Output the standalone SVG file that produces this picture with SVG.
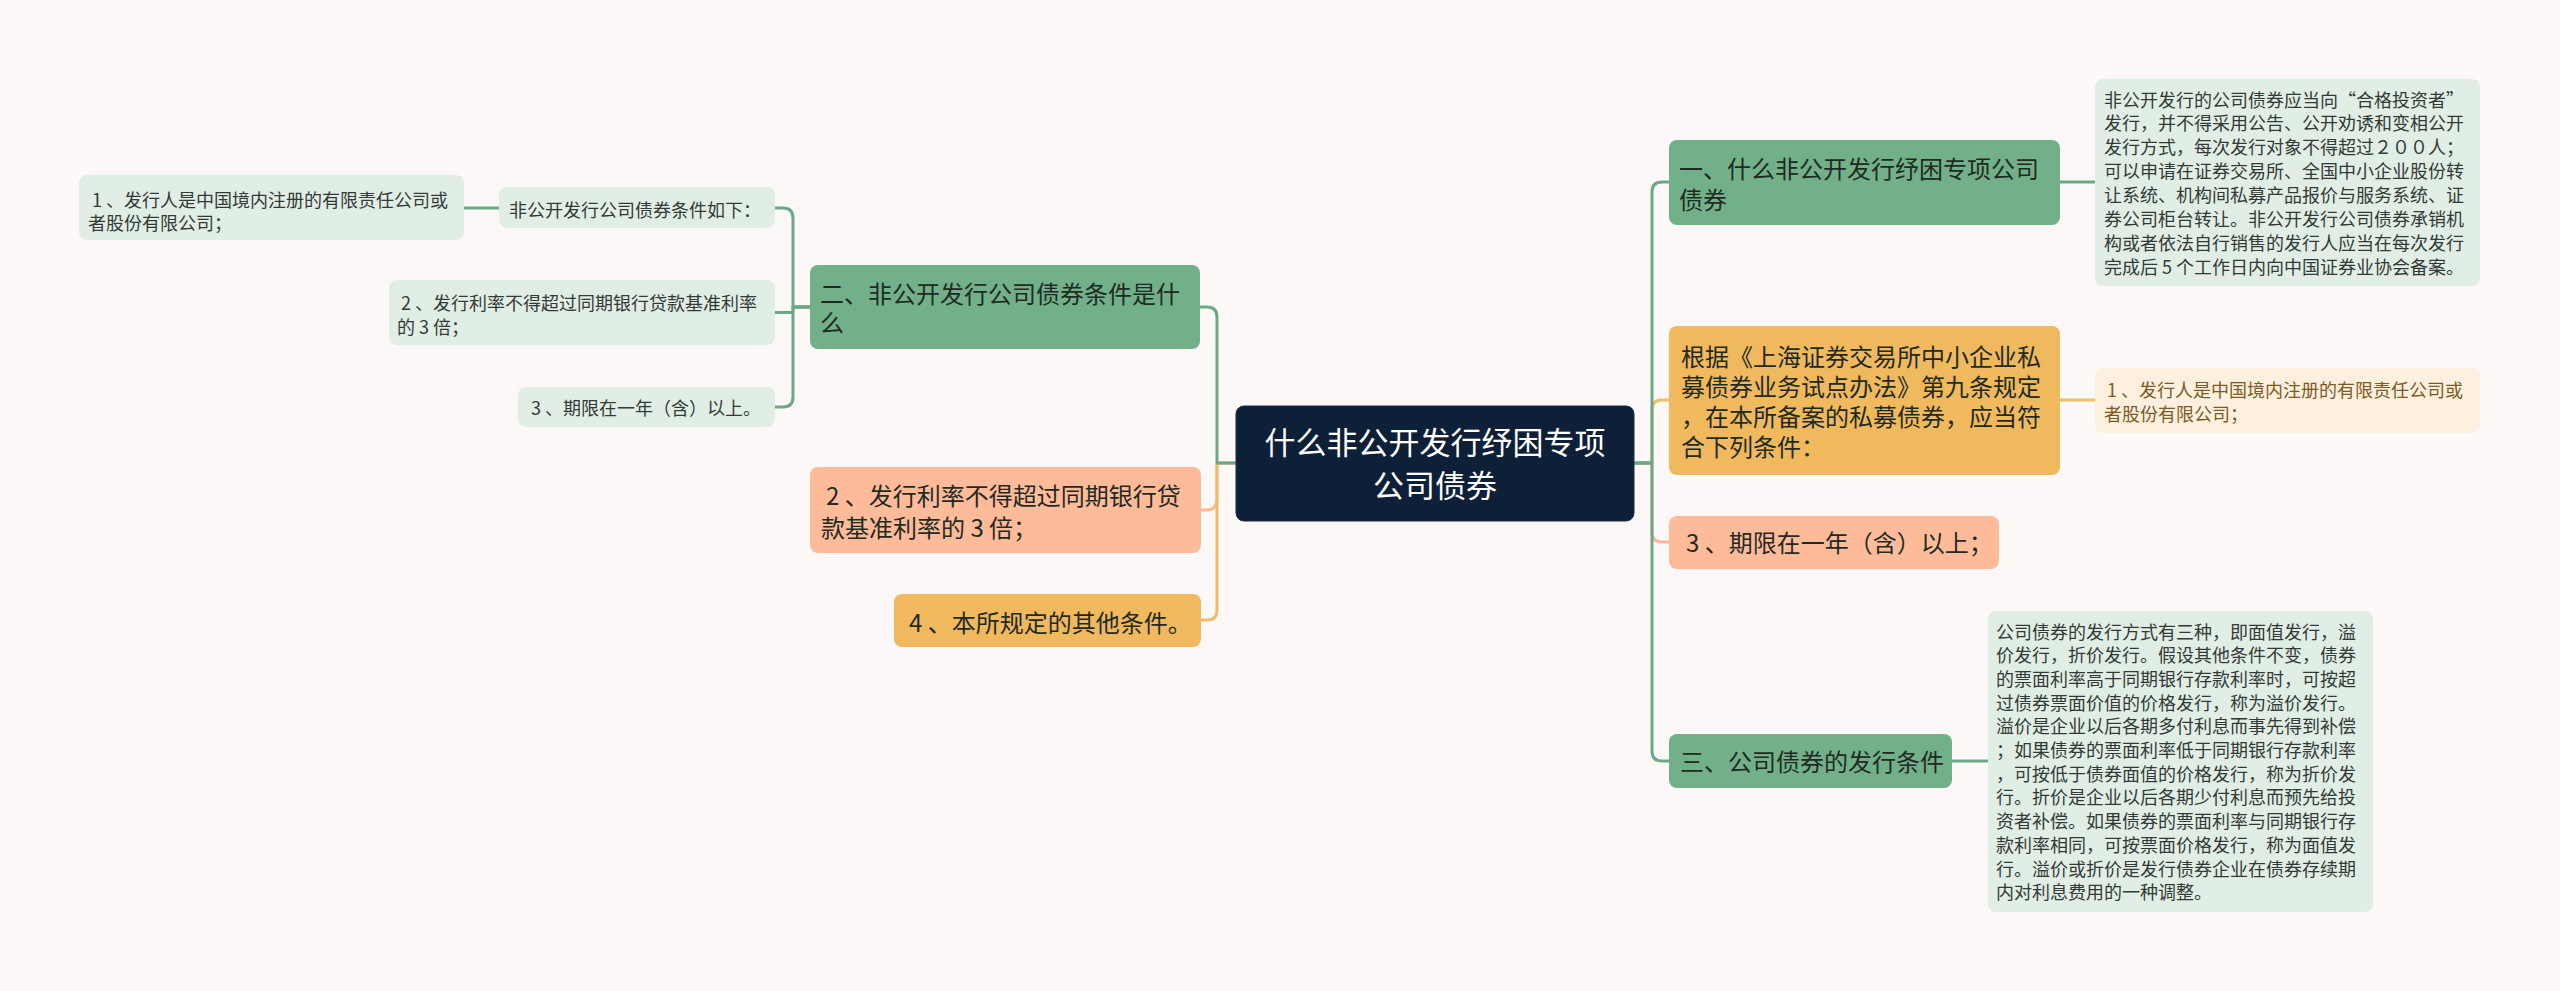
<svg xmlns="http://www.w3.org/2000/svg" width="2560" height="991" viewBox="0 0 2560 991">
<style>
text{font-family:"Noto Sans CJK SC","Noto Sans",sans-serif;}
.c{fill:none;stroke-width:3;stroke-linecap:round;stroke-linejoin:round;}
.cg{stroke:#6aa984;}
.co{stroke:#eebd65;}
.cs{stroke:#fbb99a;}
.ng{fill:#72b08a;}
.no{fill:#f0b95e;}
.ns{fill:#fdbb9a;}
.lg{fill:#e1eee6;}
.lo{fill:#fdf0de;}
.t24{font-size:24px;fill:#1f2a22;}
.t18{font-size:18px;fill:#333a35;}
.t18o{font-size:18px;fill:#7d5a22;}
.root{font-size:31px;fill:#ffffff;text-anchor:middle;}
</style>
<rect x="0" y="0" width="2560" height="991" fill="#fcf8f7"/>
<g id="connectors">
  <path class="c cs" d="M1236 463 H1217 V498 Q1217 510 1207 510 H1201"/>
  <path class="c co" d="M1236 463 H1217 V610 Q1217 620 1207 620 H1201"/>
  <path class="c cg" d="M1236 463 H1217 V317 Q1217 307 1207 307 H1200"/>
  <path class="c cs" d="M1634 463 H1652 V532 Q1652 542 1662 542 H1669"/>
  <path class="c co" d="M1634 463 H1652 V410 Q1652 400 1662 400 H1669"/>
  <path class="c cg" d="M1634 463 H1652 V192 Q1652 182 1662 182 H1669"/>
  <path class="c cg" d="M1634 463 H1652 V751 Q1652 761 1662 761 H1669"/>
  <path class="c cg" d="M2060 182 H2095"/>
  <path class="c co" d="M2060 400 H2095"/>
  <path class="c cg" d="M1952 761 H1988"/>
  <path class="c cg" d="M810 307 H793 V218 Q793 208 783 208 H775"/>
  <path class="c cg" d="M810 307 H793 V312.5 H775"/>
  <path class="c cg" d="M810 307 H793 V397 Q793 407 783 407 H775"/>
  <path class="c cg" d="M499 208 H464"/>
</g>
<g id="root">
  <rect x="1236" y="406" width="398" height="115" rx="8" fill="#0e1f38" stroke="#1c2d48" stroke-width="1"/>
  <text class="root" x="1435" y="453.5">什么非公开发行纾困专项</text>
  <text class="root" x="1435" y="497">公司债券</text>
</g>
<g id="n1">
  <rect class="ng" x="1669" y="140" width="391" height="85" rx="8"/>
  <text class="t24" x="1679" y="178">一、什么非公开发行纾困专项公司</text>
  <text class="t24" x="1679" y="208.5">债券</text>
</g>
<g id="n1-detail">
  <rect class="lg" x="2095" y="79" width="385" height="207" rx="8"/>
  <text class="t18" x="2104" y="106.5">非公开发行的公司债券应当向“合格投资者”</text>
  <text class="t18" x="2104" y="130.4">发行，并不得采用公告、公开劝诱和变相公开</text>
  <text class="t18" x="2104" y="154.3">发行方式，每次发行对象不得超过２００人；</text>
  <text class="t18" x="2104" y="178.2">可以申请在证券交易所、全国中小企业股份转</text>
  <text class="t18" x="2104" y="202.1">让系统、机构间私募产品报价与服务系统、证</text>
  <text class="t18" x="2104" y="226">券公司柜台转让。非公开发行公司债券承销机</text>
  <text class="t18" x="2104" y="249.9">构或者依法自行销售的发行人应当在每次发行</text>
  <text class="t18" x="2104" y="273.8">完成后 5 个工作日内向中国证券业协会备案。</text>
</g>
<g id="n2">
  <rect class="no" x="1669" y="326" width="391" height="149" rx="8"/>
  <text class="t24" x="1681" y="366">根据《上海证券交易所中小企业私</text>
  <text class="t24" x="1681" y="396">募债券业务试点办法》第九条规定</text>
  <text class="t24" x="1681" y="426">，在本所备案的私募债券，应当符</text>
  <text class="t24" x="1681" y="456">合下列条件：</text>
</g>
<g id="n2-detail">
  <rect class="lo" x="2095" y="368" width="385" height="65" rx="8"/>
  <text class="t18o" x="2107" y="396.5">1 、发行人是中国境内注册的有限责任公司或</text>
  <text class="t18o" x="2104" y="420.5">者股份有限公司；</text>
</g>
<g id="n3">
  <rect class="ns" x="1669" y="516" width="330" height="53" rx="8"/>
  <text class="t24" x="1686" y="552">3 、期限在一年（含）以上；</text>
</g>
<g id="n4">
  <rect class="ng" x="1669" y="734" width="283" height="54" rx="8"/>
  <text class="t24" x="1680" y="770.5">三、公司债券的发行条件</text>
</g>
<g id="n4-detail">
  <rect class="lg" x="1988" y="611" width="385" height="301" rx="8"/>
  <text class="t18" x="1996" y="638.5">公司债券的发行方式有三种，即面值发行，溢</text>
  <text class="t18" x="1996" y="662.2">价发行，折价发行。假设其他条件不变，债券</text>
  <text class="t18" x="1996" y="685.9">的票面利率高于同期银行存款利率时，可按超</text>
  <text class="t18" x="1996" y="709.6">过债券票面价值的价格发行，称为溢价发行。</text>
  <text class="t18" x="1996" y="733.3">溢价是企业以后各期多付利息而事先得到补偿</text>
  <text class="t18" x="1996" y="757">；如果债券的票面利率低于同期银行存款利率</text>
  <text class="t18" x="1996" y="780.7">，可按低于债券面值的价格发行，称为折价发</text>
  <text class="t18" x="1996" y="804.4">行。折价是企业以后各期少付利息而预先给投</text>
  <text class="t18" x="1996" y="828.1">资者补偿。如果债券的票面利率与同期银行存</text>
  <text class="t18" x="1996" y="851.8">款利率相同，可按票面价格发行，称为面值发</text>
  <text class="t18" x="1996" y="875.5">行。溢价或折价是发行债券企业在债券存续期</text>
  <text class="t18" x="1996" y="899.2">内对利息费用的一种调整。</text>
</g>
<g id="l1">
  <rect class="ng" x="810" y="265" width="390" height="84" rx="8"/>
  <text class="t24" x="820" y="303">二、非公开发行公司债券条件是什</text>
  <text class="t24" x="820" y="332">么</text>
</g>
<g id="l1-a">
  <rect class="lg" x="499" y="187" width="276" height="41" rx="8"/>
  <text class="t18" x="509" y="216.5">非公开发行公司债券条件如下：</text>
</g>
<g id="l1-a1">
  <rect class="lg" x="79" y="175" width="385" height="65" rx="8"/>
  <text class="t18" x="92" y="206.5">1 、发行人是中国境内注册的有限责任公司或</text>
  <text class="t18" x="88" y="229.5">者股份有限公司；</text>
</g>
<g id="l1-b">
  <rect class="lg" x="389" y="280" width="386" height="65" rx="8"/>
  <text class="t18" x="401" y="309.5">2 、发行利率不得超过同期银行贷款基准利率</text>
  <text class="t18" x="397" y="333.5">的 3 倍；</text>
</g>
<g id="l1-c">
  <rect class="lg" x="518" y="387" width="257" height="40" rx="8"/>
  <text class="t18" x="531" y="414.5">3 、期限在一年（含）以上。</text>
</g>
<g id="l2">
  <rect class="ns" x="810" y="467" width="391" height="86" rx="8"/>
  <text class="t24" x="826" y="505">2 、发行利率不得超过同期银行贷</text>
  <text class="t24" x="821" y="537">款基准利率的 3 倍；</text>
</g>
<g id="l3">
  <rect class="no" x="894" y="594" width="307" height="53" rx="8"/>
  <text class="t24" x="909" y="631.5">4 、本所规定的其他条件。</text>
</g>
</svg>
